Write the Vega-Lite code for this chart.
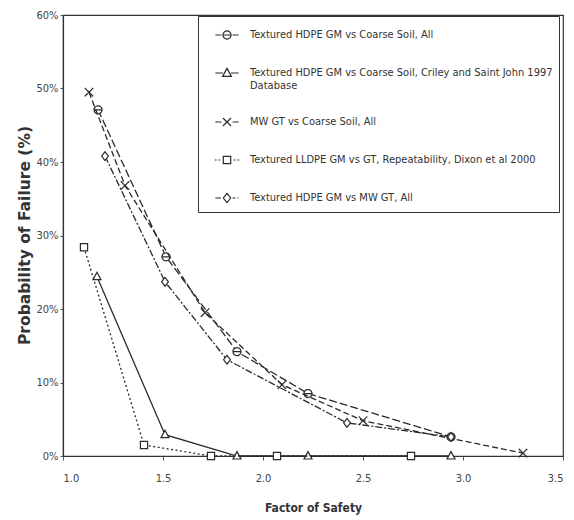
{
  "$schema": "https://vega.github.io/schema/vega-lite/v6.json",
  "width": 500,
  "height": 441,
  "autosize": {"type": "none"},
  "padding": {"left": 63, "top": 15, "right": 11, "bottom": 64},
  "background": "white",
  "config": {
    "view": {"stroke": "#333", "strokeWidth": 1.2},
    "font": "Liberation Sans Narrow, DejaVu Sans Condensed, sans-serif",
    "legend": {
      "title": null,
      "orient": "none",
      "legendX": 135,
      "legendY": 1,
      "strokeColor": "#333",
      "padding": 6,
      "symbolSize": 600,
      "symbolOffset": 10,
      "symbolStrokeWidth": 1.2,
      "symbolStrokeColor": "#2a2a2a",
      "labelOffset": 10,
      "labelFontSize": 11,
      "labelColor": "#333",
      "labelLimit": 500,
      "rowPadding": 18
    }
  },
  "data": {
    "values": [
      {"s": "Textured HDPE GM vs Coarse Soil, All", "fs": 1.175, "p": 47.1},
      {"s": "Textured HDPE GM vs Coarse Soil, All", "fs": 1.515, "p": 27.1},
      {"s": "Textured HDPE GM vs Coarse Soil, All", "fs": 1.87, "p": 14.2},
      {"s": "Textured HDPE GM vs Coarse Soil, All", "fs": 2.225, "p": 8.5},
      {"s": "Textured HDPE GM vs Coarse Soil, All", "fs": 2.94, "p": 2.6},
      {"s": "Textured HDPE GM vs Coarse Soil, Criley and Saint John 1997 Database", "fs": 1.17, "p": 24.4},
      {"s": "Textured HDPE GM vs Coarse Soil, Criley and Saint John 1997 Database", "fs": 1.51, "p": 2.9},
      {"s": "Textured HDPE GM vs Coarse Soil, Criley and Saint John 1997 Database", "fs": 1.87, "p": 0},
      {"s": "Textured HDPE GM vs Coarse Soil, Criley and Saint John 1997 Database", "fs": 2.225, "p": 0},
      {"s": "Textured HDPE GM vs Coarse Soil, Criley and Saint John 1997 Database", "fs": 2.94, "p": 0},
      {"s": "MW GT vs Coarse Soil, All", "fs": 1.13, "p": 49.5},
      {"s": "MW GT vs Coarse Soil, All", "fs": 1.31, "p": 36.8},
      {"s": "MW GT vs Coarse Soil, All", "fs": 1.71, "p": 19.5},
      {"s": "MW GT vs Coarse Soil, All", "fs": 2.095, "p": 9.7},
      {"s": "MW GT vs Coarse Soil, All", "fs": 2.5, "p": 4.8},
      {"s": "MW GT vs Coarse Soil, All", "fs": 3.3, "p": 0.4},
      {"s": "Textured LLDPE GM vs GT, Repeatability, Dixon et al 2000", "fs": 1.105, "p": 28.4},
      {"s": "Textured LLDPE GM vs GT, Repeatability, Dixon et al 2000", "fs": 1.405, "p": 1.5},
      {"s": "Textured LLDPE GM vs GT, Repeatability, Dixon et al 2000", "fs": 1.74, "p": 0},
      {"s": "Textured LLDPE GM vs GT, Repeatability, Dixon et al 2000", "fs": 2.07, "p": 0},
      {"s": "Textured LLDPE GM vs GT, Repeatability, Dixon et al 2000", "fs": 2.74, "p": 0},
      {"s": "Textured HDPE GM vs MW GT, All", "fs": 1.21, "p": 40.8},
      {"s": "Textured HDPE GM vs MW GT, All", "fs": 1.51, "p": 23.7},
      {"s": "Textured HDPE GM vs MW GT, All", "fs": 1.82, "p": 13.1},
      {"s": "Textured HDPE GM vs MW GT, All", "fs": 2.42, "p": 4.5},
      {"s": "Textured HDPE GM vs MW GT, All", "fs": 2.94, "p": 2.6}
    ]
  },
  "encoding": {
    "x": {
      "field": "fs", "type": "quantitative",
      "scale": {"domain": [1, 3.5], "nice": false, "zero": false},
      "axis": {
        "title": "Factor of Safety",
        "values": [1, 1.5, 2, 2.5, 3, 3.5],
        "format": ".1f",
        "grid": false,
        "domainColor": "#333", "domainWidth": 1.2,
        "tickColor": "#555", "tickSize": 4,
        "labelPadding": 12, "labelFontSize": 11, "labelColor": "#444",
        "titleFontSize": 12, "titleFontWeight": "bold", "titleColor": "#333",
        "titleY": 51, "titleBaseline": "middle"
      }
    },
    "y": {
      "field": "p", "type": "quantitative",
      "scale": {"domain": [0, 60], "nice": false},
      "axis": {
        "title": "Probability of Failure (%)",
        "values": [0, 10, 20, 30, 40, 50, 60],
        "labelExpr": "datum.value + '%'",
        "grid": false,
        "domainColor": "#333", "domainWidth": 1.2,
        "tickColor": "#555", "tickSize": 3,
        "labelPadding": 2, "labelFontSize": 11, "labelColor": "#444",
        "titleFont": "DejaVu Sans", "titleFontSize": 15.5, "titleFontWeight": "bold", "titleColor": "#333",
        "titleX": -39, "titleY": 220, "titleAngle": 270, "titleAlign": "center", "titleBaseline": "middle"
      }
    }
  },
  "layer": [
    {
      "transform": [{"filter": "datum.s == 'Textured HDPE GM vs Coarse Soil, All'"}],
      "mark": {"type": "line", "color": "#2a2a2a", "strokeWidth": 1.3, "strokeDash": [8, 3],
        "point": {"shape": "M-1,0A1,1 0 1,1 1,0A1,1 0 1,1 -1,0M-1,0H1", "filled": true, "fill": "white", "stroke": "#2a2a2a", "strokeWidth": 1.2, "strokeDash": [1, 0], "size": 64}}
    },
    {
      "transform": [{"filter": "datum.s == 'Textured HDPE GM vs Coarse Soil, Criley and Saint John 1997 Database'"}],
      "mark": {"type": "line", "color": "#2a2a2a", "strokeWidth": 1.3,
        "point": {"shape": "M0,-1.1L1,0.75L-1,0.75Z", "filled": true, "fill": "white", "stroke": "#2a2a2a", "strokeWidth": 1.2, "size": 64}}
    },
    {
      "transform": [{"filter": "datum.s == 'MW GT vs Coarse Soil, All'"}],
      "mark": {"type": "line", "color": "#2a2a2a", "strokeWidth": 1.3, "strokeDash": [6, 3],
        "point": {"shape": "M-1,-1L1,1M-1,1L1,-1", "filled": true, "fill": "white", "stroke": "#2a2a2a", "strokeWidth": 1.2, "strokeDash": [1, 0], "size": 72}}
    },
    {
      "transform": [{"filter": "datum.s == 'Textured LLDPE GM vs GT, Repeatability, Dixon et al 2000'"}],
      "mark": {"type": "line", "color": "#2a2a2a", "strokeWidth": 1.3, "strokeDash": [2, 2.5],
        "point": {"shape": "M-0.9,-0.9H0.9V0.9H-0.9Z", "filled": true, "fill": "white", "stroke": "#2a2a2a", "strokeWidth": 1.2, "strokeDash": [1, 0], "size": 64}}
    },
    {
      "transform": [{"filter": "datum.s == 'Textured HDPE GM vs MW GT, All'"}],
      "mark": {"type": "line", "color": "#2a2a2a", "strokeWidth": 1.3, "strokeDash": [7, 2, 2, 2],
        "point": {"shape": "M0,-1.1L0.85,0L0,1.1L-0.85,0Z", "filled": true, "fill": "white", "stroke": "#2a2a2a", "strokeWidth": 1.2, "strokeDash": [1, 0], "size": 64}}
    },
    {
      "transform": [{"filter": "false"}],
      "mark": {"type": "point", "filled": false, "color": "#2a2a2a", "stroke": "#2a2a2a", "strokeWidth": 1.2, "size": 600, "opacity": 1},
      "encoding": {
        "shape": {
          "field": "s", "type": "nominal",
          "scale": {
            "domain": [
              "Textured HDPE GM vs Coarse Soil, All",
              "Textured HDPE GM vs Coarse Soil, Criley and Saint John 1997 Database",
              "MW GT vs Coarse Soil, All",
              "Textured LLDPE GM vs GT, Repeatability, Dixon et al 2000",
              "Textured HDPE GM vs MW GT, All"
            ],
            "range": [
              "M-0.95,0H-0.45M0.45,0H0.95M-0.33,0A0.33,0.33 0 1,1 0.33,0A0.33,0.33 0 1,1 -0.33,0M-0.33,0H0.33",
              "M-0.95,0H-0.33M0.33,0H0.95M0,-0.38L0.36,0.28L-0.36,0.28Z",
              "M-0.95,0H-0.45M0.45,0H0.95M-0.33,-0.33L0.33,0.33M-0.33,0.33L0.33,-0.33",
              "M-1,0H-0.85M-0.7,0H-0.55M0.55,0H0.7M0.85,0H1M-0.3,-0.3H0.3V0.3H-0.3Z",
              "M-0.95,0H-0.5M0.45,0H0.7M0.85,0H0.95M0,-0.38L0.3,0L0,0.38L-0.3,0Z"
            ]
          },
          "legend": {
            "labelExpr": "datum.label == 'Textured HDPE GM vs Coarse Soil, Criley and Saint John 1997 Database' ? ['Textured HDPE GM vs Coarse Soil, Criley and Saint John 1997', 'Database'] : datum.label",
            "encode": {
              "labels": {
                "update": {
                  "dy": {"signal": "datum.value == 'Textured HDPE GM vs Coarse Soil, Criley and Saint John 1997 Database' ? 6 : 0"}
                }
              }
            }
          }
        }
      }
    }
  ]
}
